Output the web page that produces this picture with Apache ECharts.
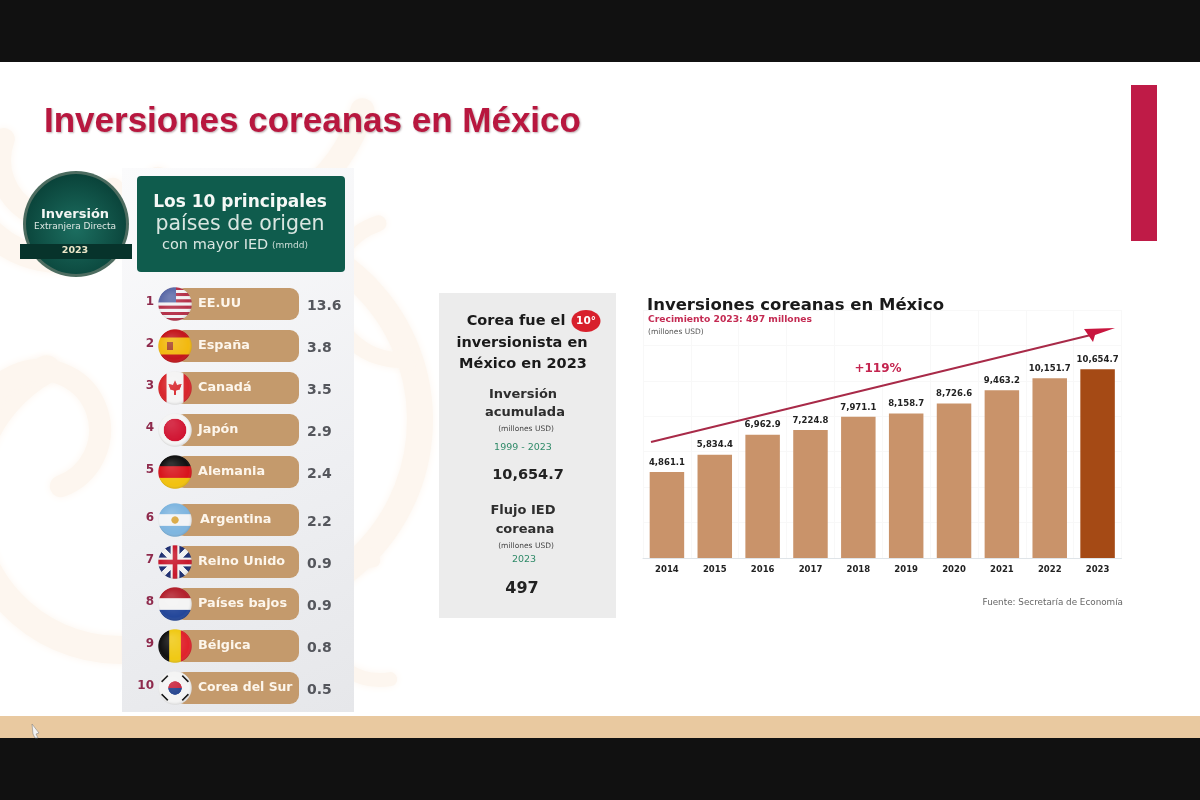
<!DOCTYPE html>
<html>
<head>
<meta charset="utf-8">
<style>html,body{margin:0;padding:0;background:#111}#main{width:1200px;height:800px}</style>
<script src="https://cdn.jsdelivr.net/npm/echarts@6/dist/echarts.min.js"></script>
</head>
<body>
<div id="main"></div>
<script>
// datos del ranking
const paises = ['EE.UU', 'España', 'Canadá', 'Japón', 'Alemania', 'Argentina', 'Reino Unido', 'Países bajos', 'Bélgica', 'Corea del Sur'];
const valoresIED = ['13.6', '3.8', '3.5', '2.9', '2.4', '2.2', '0.9', '0.9', '0.8', '0.5'];
// datos de la gráfica de barras
const anios = ['2014', '2015', '2016', '2017', '2018', '2019', '2020', '2021', '2022', '2023'];
const inversion = [4861.1, 5834.4, 6962.9, 7224.8, 7971.1, 8158.7, 8726.6, 9463.2, 10151.7, 10654.7];

const FUENTE = '"DejaVu Sans", Inter, sans-serif';
const CRIMSON = '#b8173f';

// dibuja una bandera redonda en un canvas aparte y la devuelve como imagen
function bandera(nombre) {
  const c = document.createElement('canvas');
  c.width = c.height = 132;
  const g = c.getContext('2d');
  const bandasH = (cols) => cols.forEach((col, i) => {
    g.fillStyle = col;
    g.fillRect(0, 132 * i / cols.length, 132, 132 / cols.length + 1);
  });
  const bandasV = (cols) => cols.forEach((col, i) => {
    g.fillStyle = col;
    g.fillRect(132 * i / cols.length, 0, 132 / cols.length + 1, 132);
  });
  g.beginPath();
  g.arc(66, 66, 65, 0, Math.PI * 2);
  g.clip();
  if (nombre === 'EE.UU') {
    bandasH(['#b5314a', '#f2f2f4', '#b5314a', '#f2f2f4', '#b5314a', '#f2f2f4', '#b5314a', '#f2f2f4', '#b5314a', '#f2f2f4', '#b5314a']);
    g.fillStyle = '#5b6aa8';
    g.fillRect(0, 0, 70, 60);
  } else if (nombre === 'España') {
    bandasH(['#c4161c', '#f2b90f', '#f2b90f', '#c4161c']);
    g.fillStyle = '#a8452c';
    g.fillRect(34, 50, 24, 32);
  } else if (nombre === 'Canadá') {
    bandasV(['#d8262c', '#f4f4f4', '#f4f4f4', '#d8262c']);
    g.fillStyle = '#d8262c';
    g.beginPath();
    g.moveTo(66, 36); g.lineTo(74, 54); g.lineTo(92, 50); g.lineTo(84, 72); g.lineTo(70, 76); g.lineTo(70, 92);
    g.lineTo(62, 92); g.lineTo(62, 76); g.lineTo(48, 72); g.lineTo(40, 50); g.lineTo(58, 54);
    g.fill();
  } else if (nombre === 'Japón') {
    bandasH(['#f4f4f4']);
    g.fillStyle = '#d0102e';
    g.beginPath(); g.arc(66, 66, 44, 0, Math.PI * 2); g.fill();
  } else if (nombre === 'Alemania') {
    bandasH(['#111111', '#d8141c', '#f2c20f']);
  } else if (nombre === 'Argentina') {
    bandasH(['#7fb6e0', '#f2f4f6', '#7fb6e0']);
    g.fillStyle = '#d9a53a';
    g.beginPath(); g.arc(66, 66, 14, 0, Math.PI * 2); g.fill();
  } else if (nombre === 'Reino Unido') {
    bandasH(['#1e2f72']);
    g.strokeStyle = '#f2f2f2'; g.lineWidth = 20;
    g.beginPath(); g.moveTo(0, 0); g.lineTo(132, 132); g.moveTo(132, 0); g.lineTo(0, 132); g.stroke();
    g.strokeStyle = '#f2f2f2'; g.lineWidth = 34;
    g.beginPath(); g.moveTo(66, 0); g.lineTo(66, 132); g.moveTo(0, 66); g.lineTo(132, 66); g.stroke();
    g.strokeStyle = '#c8182c'; g.lineWidth = 18;
    g.beginPath(); g.moveTo(66, 0); g.lineTo(66, 132); g.moveTo(0, 66); g.lineTo(132, 66); g.stroke();
  } else if (nombre === 'Países bajos') {
    bandasH(['#b3202c', '#f4f4f4', '#24479a']);
  } else if (nombre === 'Bélgica') {
    bandasV(['#111111', '#f0c914', '#e0222c']);
  } else {
    bandasH(['#f4f4f4']);
    g.fillStyle = '#c8203a';
    g.beginPath(); g.arc(66, 66, 26, Math.PI, 0); g.fill();
    g.fillStyle = '#1f3f8c';
    g.beginPath(); g.arc(66, 66, 26, 0, Math.PI); g.fill();
    g.strokeStyle = '#222'; g.lineWidth = 7;
    [[26, 30, 1], [106, 30, -1], [26, 102, -1], [106, 102, 1]].forEach(([x, y, s]) => {
      g.beginPath(); g.moveTo(x - 12, y + 12 * s); g.lineTo(x + 12, y - 12 * s); g.stroke();
    });
  }
  // brillo suave
  const brillo = g.createRadialGradient(50, 40, 10, 66, 66, 68);
  brillo.addColorStop(0, 'rgba(255,255,255,0.14)');
  brillo.addColorStop(0.8, 'rgba(255,255,255,0)');
  brillo.addColorStop(1, 'rgba(0,0,0,0.18)');
  g.fillStyle = brillo;
  g.fillRect(0, 0, 132, 132);
  return c.toDataURL();
}

const imagenes = {};
paises.forEach(p => { imagenes[p] = bandera(p); });

// una fila del ranking: rango, píldora, bandera, nombre y valor
function filaRanking(inicio) {
  return function (params, api) {
    const i = api.value(0);
    const y = api.coord([0, i])[1];
    const x0 = api.coord([0, i])[0];
    const x1 = api.coord([1, i])[0];
    const n = inicio + i;
    return {
      type: 'group',
      children: [
        { type: 'rect', shape: { x: x0, y: y - 16, width: x1 - x0, height: 32, r: 9 }, style: { fill: '#c49a6c' } },
        { type: 'image', style: { image: imagenes[paises[n]], x: x0 - 17, y: y - 17, width: 34, height: 34 } },
        { type: 'text', style: { text: String(n + 1), x: x0 - 21, y: y - 2, align: 'right', verticalAlign: 'middle', fill: '#8e2a4c', font: '700 12px ' + FUENTE } },
        { type: 'text', style: { text: paises[n], x: x0 + (n === 5 ? 25 : 23), y: y, verticalAlign: 'middle', fill: '#fdf6ec', font: '700 ' + (n === 9 ? 12.4 : 12.8) + 'px ' + FUENTE } },
        { type: 'text', style: { text: valoresIED[n], x: x1 + 8, y: y + 2, verticalAlign: 'middle', fill: '#54565c', font: '700 14px ' + FUENTE } }
      ]
    };
  };
}

function texto(text, x, y, size, weight, fill, align) {
  return {
    type: 'text', z: 5,
    style: { text, x, y, fill, align: align || 'center', verticalAlign: 'middle', font: weight + ' ' + size + 'px ' + FUENTE }
  };
}

function aro(cx, cy, r, ini, fin, w) {
  return {
    type: 'arc', z: 0,
    shape: { cx, cy, r, startAngle: ini, endAngle: fin },
    style: { stroke: '#fdf6ef', lineWidth: w, fill: null, lineCap: 'round', shadowBlur: 8, shadowColor: '#fdf6ef' }
  };
}

const chart = echarts.init(document.getElementById('main'));
const ejesFila = [
  { top: 283, data: [0, 1, 2, 3, 4], inicio: 0 },
  { top: 499, data: [0, 1, 2, 3, 4], inicio: 5 }
];

const option = {
  backgroundColor: '#111111',
  animation: false,
  title: [
    {
      text: 'Inversiones coreanas en México', left: 39, top: 100,
      textStyle: {
        fontFamily: '"Liberation Sans", Arial, sans-serif', fontSize: 35, fontWeight: 700, color: CRIMSON,
        textShadowColor: 'rgba(60,20,30,0.35)', textShadowBlur: 2, textShadowOffsetX: 1, textShadowOffsetY: 1
      }
    },
    {
      text: 'Inversiones coreanas en México', left: 642, top: 292,
      textStyle: { fontFamily: FUENTE, fontSize: 16.5, fontWeight: 700, color: '#1a1a1a' }
    }
  ],
  grid: [
    { left: 175, width: 124, top: ejesFila[0].top, height: 210 },
    { left: 175, width: 124, top: ejesFila[1].top, height: 210 },
    { left: 643, width: 478.5, top: 310, height: 248 }
  ],
  xAxis: [
    { gridIndex: 0, type: 'value', min: 0, max: 1, show: false },
    { gridIndex: 1, type: 'value', min: 0, max: 1, show: false },
    {
      gridIndex: 2, type: 'category', data: anios,
      axisTick: { show: false },
      axisLine: { lineStyle: { color: '#dfe4e8', width: 1 } },
      axisLabel: { color: '#222', fontFamily: FUENTE, fontWeight: 700, fontSize: 8.5, margin: 7 },
      splitLine: { show: true, lineStyle: { color: '#f8f8f8' } }
    }
  ],
  yAxis: [
    { gridIndex: 0, type: 'category', inverse: true, data: ejesFila[0].data, show: false },
    { gridIndex: 1, type: 'category', inverse: true, data: ejesFila[1].data, show: false },
    {
      gridIndex: 2, type: 'value', min: 0, max: 14000, interval: 2000, show: true,
      axisLine: { show: false }, axisTick: { show: false }, axisLabel: { show: false },
      splitLine: { lineStyle: { color: '#f8f8f8' } }
    }
  ],
  series: [
    {
      type: 'custom', xAxisIndex: 0, yAxisIndex: 0, z: 4, clip: false,
      renderItem: filaRanking(0), data: ejesFila[0].data.map(i => [i]), encode: { y: 0 }
    },
    {
      type: 'custom', xAxisIndex: 1, yAxisIndex: 1, z: 4, clip: false,
      renderItem: filaRanking(5), data: ejesFila[1].data.map(i => [i]), encode: { y: 0 }
    },
    {
      type: 'bar', xAxisIndex: 2, yAxisIndex: 2, barWidth: 34.5, z: 3,
      data: inversion.map((v, i) => ({ value: v, itemStyle: { color: i === inversion.length - 1 ? '#a54a15' : '#c9936a' } })),
      label: {
        show: true, position: 'top', distance: 5, color: '#222', fontFamily: FUENTE, fontWeight: 700, fontSize: 8.5,
        formatter: p => p.value.toLocaleString('en-US', { minimumFractionDigits: 1 })
      }
    }
  ],
  graphic: [
    // lámina blanca y franja inferior
    { type: 'rect', z: -10, shape: { x: 0, y: 62, width: 1200, height: 654 }, style: { fill: '#ffffff' } },
    { type: 'rect', z: -10, shape: { x: 0, y: 716, width: 1200, height: 22 }, style: { fill: '#e9c9a0' } },
    // ornamento de fondo
    aro(60, 160, 100, 0.2, 2.8, 26), aro(60, 160, 60, 0.5, 3.5, 22),
    aro(230, 420, 190, -1.1, 1.3, 26), aro(120, 500, 150, 1.2, 4.2, 28),
    aro(40, 430, 60, 3.6, 7.5, 22), aro(200, 60, 170, 0.3, 1.6, 24),
    aro(400, 290, 70, 1.5, 4.4, 16), aro(380, 620, 60, 1.4, 4.6, 14),
    // barra roja
    { type: 'rect', z: 1, shape: { x: 1131, y: 85, width: 26, height: 156 }, style: { fill: '#bf1b47' } },
    // panel gris del ranking
    {
      type: 'rect', z: 1, shape: { x: 122, y: 168, width: 232, height: 544 },
      style: { fill: new echarts.graphic.LinearGradient(0, 0, 1, 1, [{ offset: 0, color: '#fbfbfc' }, { offset: 0.6, color: '#eeeff2' }, { offset: 1, color: '#e6e7ea' }]) }
    },
    // sello
    { type: 'circle', z: 2, shape: { cx: 76, cy: 224, r: 53 }, style: { fill: '#4d6c60' } },
    {
      type: 'circle', z: 2, shape: { cx: 76, cy: 224, r: 50 },
      style: { fill: new echarts.graphic.RadialGradient(0.5, 0.55, 0.6, [{ offset: 0, color: '#1c6e60' }, { offset: 1, color: '#083f36' }]) }
    },
    { type: 'rect', z: 3, shape: { x: 20, y: 244, width: 112, height: 15 }, style: { fill: '#07332b' } },
    texto('Inversión', 75, 215, 13, 700, '#f2f5f3'),
    texto('Extranjera Directa', 75, 227, 9, 400, '#dfe8e4'),
    texto('2023', 75, 251, 9.5, 700, '#ece6c8'),
    // recuadro verde
    { type: 'rect', z: 2, shape: { x: 137, y: 176, width: 208, height: 96, r: 4 }, style: { fill: '#0f5c4d' } },
    texto('Los 10 principales', 240, 203, 17, 700, '#f5f8f6'),
    texto('países de origen', 240, 225, 20.5, 400, '#d9e6e1'),
    texto('con mayor IED', 162, 245, 14.5, 400, '#d9e6e1', 'left'),
    texto('(mmdd)', 272, 246, 9, 400, '#cfdfd9', 'left'),
    // panel central
    { type: 'rect', z: 1, shape: { x: 439, y: 293, width: 177, height: 325 }, style: { fill: '#ececec' } },
    texto('Corea fue el', 516, 321, 14.5, 700, '#1a1a1a'),
    { type: 'ellipse', z: 3, shape: { cx: 586, cy: 321, rx: 14.5, ry: 11 }, style: { fill: '#d8202c' } },
    texto('10°', 586, 321, 10.5, 700, '#ffffff'),
    texto('inversionista en', 522, 343, 14.5, 700, '#1a1a1a'),
    texto('México en 2023', 523, 364, 14.5, 700, '#1a1a1a'),
    texto('Inversión', 523, 395, 13, 700, '#2e2e2e'),
    texto('acumulada', 525, 413, 13, 700, '#2e2e2e'),
    texto('(millones USD)', 526, 429, 7.5, 400, '#444'),
    texto('1999 - 2023', 523, 448, 9.5, 400, '#2f8a68'),
    texto('10,654.7', 528, 475, 14.5, 700, '#222'),
    texto('Flujo IED', 523, 511, 13, 700, '#2e2e2e'),
    texto('coreana', 525, 530, 13, 700, '#2e2e2e'),
    texto('(millones USD)', 526, 546, 7.5, 400, '#444'),
    texto('2023', 524, 560, 9.5, 400, '#2f8a68'),
    texto('497', 522, 589, 16, 700, '#222'),
    // subtítulos de la gráfica
    texto('Crecimiento 2023: 497 millones', 648, 320, 9.2, 700, '#c42a52', 'left'),
    texto('(millones USD)', 648, 332, 7.5, 400, '#555', 'left'),
    texto('+119%', 878, 369, 12, 700, '#c4244f'),
    texto('Fuente: Secretaría de Economía', 1123, 603, 8.8, 400, '#666', 'right'),
    // flecha de crecimiento
    { type: 'line', z: 4, shape: { x1: 651, y1: 442, x2: 1095, y2: 334 }, style: { stroke: '#a82a48', lineWidth: 2 } },
    { type: 'polygon', z: 5, shape: { points: [[1115, 328], [1084, 329], [1093, 342], [1095, 335]] }, style: { fill: '#c8163f' } },
    // puntero del ratón
    { type: 'polygon', z: 6, shape: { points: [[32, 724], [39, 733], [36, 734], [38, 738], [35, 738], [33, 734]] }, style: { fill: '#f4f4f4', stroke: '#777', lineWidth: 0.5 } }
  ]
};
chart.setOption(option);
</script>
</body>
</html>
